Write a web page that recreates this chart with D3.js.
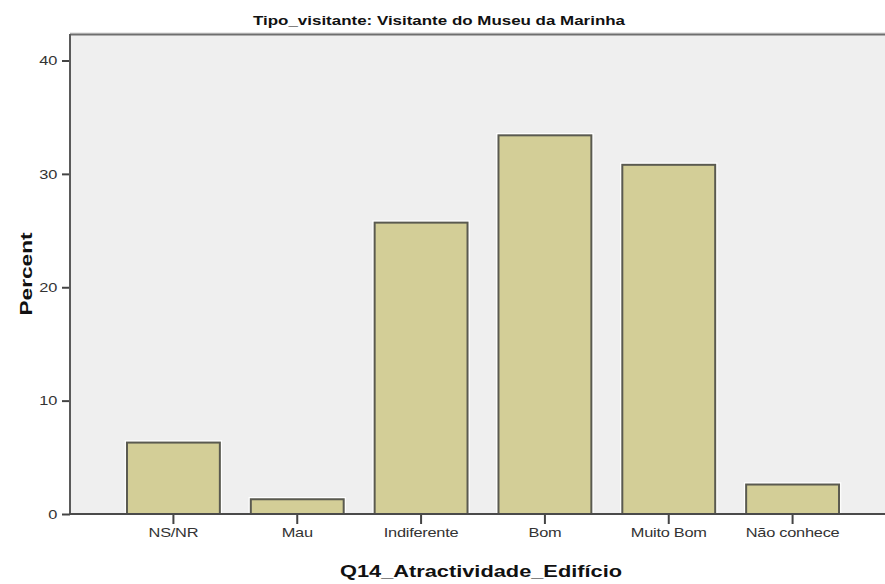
<!DOCTYPE html>
<html>
<head>
<meta charset="utf-8">
<script src="https://cdn.jsdelivr.net/npm/d3@7"></script>
<style>
  html, body { margin: 0; padding: 0; background: #ffffff; }
  svg { display: block; font-family: "Liberation Sans", Arial, sans-serif; }
</style>
</head>
<body>
<svg id="chart" width="885" height="584"></svg>
<script>
// Survey response categories and percentages
const categories = ["NS/NR", "Mau", "Indiferente", "Bom", "Muito Bom", "Não conhece"];
const percents = [6.3, 1.3, 25.7, 33.4, 30.8, 2.6];
const yTicks = [0, 10, 20, 30, 40];
const title = "Tipo_visitante: Visitante do Museu da Marinha";
const xTitle = "Q14_Atractividade_Edifício";
const yTitle = "Percent";

const data = categories.map((c, i) => ({ category: c, value: percents[i] }));

const svg = d3.select("#chart");
const plot = { left: 70, right: 885, top: 34, bottom: 514 };
const wide = 1.26; // horizontal stretch applied to all text

const x = d3.scaleBand()
  .domain(categories)
  .range([111.5, 854.5])
  .paddingInner(0.25)
  .paddingOuter(0.125);

const y = d3.scaleLinear()
  .domain([0, 40])
  .range([plot.bottom, 60.5]);

// Plot background
svg.append("rect")
  .attr("x", plot.left).attr("y", plot.top)
  .attr("width", plot.right - plot.left).attr("height", plot.bottom - plot.top)
  .attr("fill", "#efefef");

// Frame top edge
svg.append("line")
  .attr("x1", plot.left).attr("x2", plot.right)
  .attr("y1", plot.top - 1).attr("y2", plot.top - 1)
  .attr("stroke", "#d4d4d4").attr("stroke-width", 1);
svg.append("line")
  .attr("x1", plot.left).attr("x2", plot.right)
  .attr("y1", plot.top + 0.5).attr("y2", plot.top + 0.5)
  .attr("stroke", "#6e6e6e").attr("stroke-width", 2);

// Bars with a soft shaded edge on the left and a light rim
const bars = svg.append("g");
bars.selectAll("rect.halo")
  .data(data)
  .join("rect")
  .attr("class", "halo")
  .attr("x", d => x(d.category) - 1.5)
  .attr("y", d => y(d.value) - 1.5)
  .attr("width", x.bandwidth() + 3)
  .attr("height", d => y(0) - y(d.value) + 1.5)
  .attr("fill", "none")
  .attr("stroke", "#ffffff")
  .attr("stroke-width", 1.5);
bars.selectAll("rect.bar")
  .data(data)
  .join("rect")
  .attr("class", "bar")
  .attr("x", d => x(d.category))
  .attr("y", d => y(d.value))
  .attr("width", x.bandwidth())
  .attr("height", d => y(0) - y(d.value))
  .attr("fill", "#d3ce97")
  .attr("stroke", "#5a5a50")
  .attr("stroke-width", 2);

// Y axis
const yAxis = svg.append("g")
  .attr("transform", `translate(${plot.left},0)`)
  .call(d3.axisLeft(y).tickValues(yTicks).tickSize(8).tickSizeOuter(0));
yAxis.select(".domain").remove();
yAxis.selectAll(".tick line").attr("stroke", "#444").attr("stroke-width", 2);
yAxis.selectAll(".tick text")
  .attr("x", -10)
  .attr("transform", `scale(${wide},1)`)
  .attr("fill", "#333")
  .style("font-size", "13px")
  .style("font-family", "'Liberation Sans', Arial, sans-serif");
svg.append("line")
  .attr("x1", plot.left).attr("x2", plot.left)
  .attr("y1", plot.top).attr("y2", plot.bottom + 1)
  .attr("stroke", "#5a5a5a").attr("stroke-width", 2);

// X axis
const xAxis = svg.append("g")
  .attr("transform", `translate(0,${plot.bottom})`)
  .call(d3.axisBottom(x).tickSize(10).tickSizeOuter(0));
xAxis.select(".domain").remove();
xAxis.selectAll(".tick line").attr("stroke", "#444").attr("stroke-width", 2);
xAxis.selectAll(".tick text")
  .attr("y", 14)
  .attr("transform", `scale(${wide},1)`)
  .attr("fill", "#333")
  .style("font-size", "13px")
  .style("font-family", "'Liberation Sans', Arial, sans-serif")
  .style("letter-spacing", "-0.2px");
svg.append("line")
  .attr("x1", plot.left - 1).attr("x2", plot.right)
  .attr("y1", plot.bottom).attr("y2", plot.bottom)
  .attr("stroke", "#4a4a4a").attr("stroke-width", 2);

// Titles
svg.append("text")
  .attr("x", 439).attr("y", 25)
  .attr("text-anchor", "middle")
  .attr("textLength", 372)
  .attr("lengthAdjust", "spacingAndGlyphs")
  .attr("fill", "#111")
  .style("font-size", "12px")
  .style("font-weight", "bold")
  .text(title);

svg.append("text")
  .attr("x", 481).attr("y", 577)
  .attr("text-anchor", "middle")
  .attr("textLength", 282)
  .attr("lengthAdjust", "spacingAndGlyphs")
  .attr("fill", "#111")
  .style("font-size", "17px")
  .style("font-weight", "bold")
  .text(xTitle);

svg.append("text")
  .attr("transform", "translate(32,274) rotate(-90)")
  .attr("text-anchor", "middle")
  .attr("textLength", 83)
  .attr("lengthAdjust", "spacingAndGlyphs")
  .attr("fill", "#111")
  .style("font-size", "17px")
  .style("font-weight", "bold")
  .text(yTitle);
</script>
</body>
</html>
